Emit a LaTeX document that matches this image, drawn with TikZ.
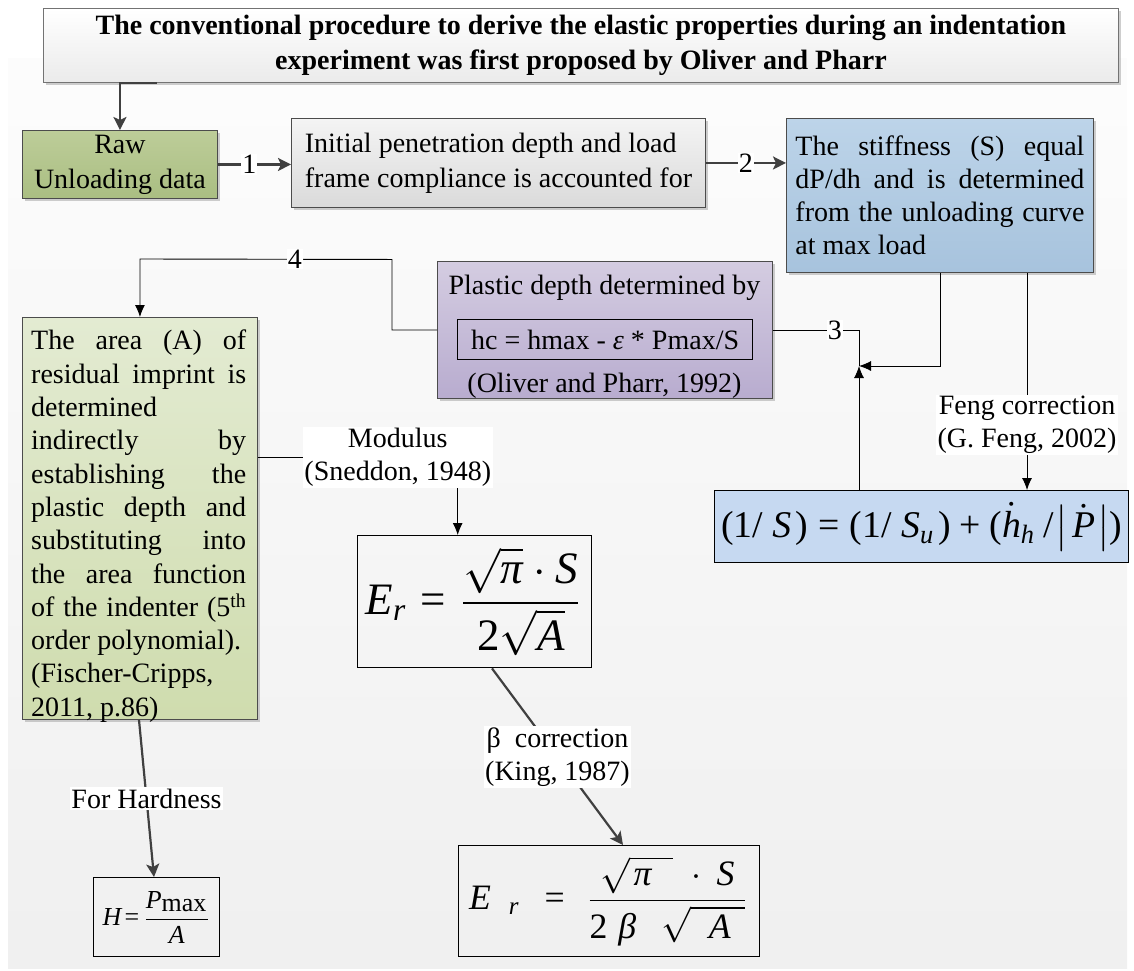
\documentclass[tikz,border=0pt]{standalone}
\usepackage{amsmath}
\usepackage{graphicx}
\usepackage{fontspec}
\setmainfont{Liberation Serif}
\usetikzlibrary{arrows.meta,shadows,calc}
\newcommand\ti[1]{\textit{#1}}
\newcommand\tn[1]{\textnormal{#1}}
\newcommand\ns{\spaceskip=0pt\xspaceskip=0pt\relax}
\newcommand\jline[2]{\makebox[#1][s]{\ns #2}}
\newcommand\eqw[2]{\resizebox{#1}{!}{\fontsize{10}{12}\selectfont #2}}
\definecolor{rawtop}{HTML}{BDCD99}
\definecolor{rawbot}{HTML}{AABE82}
\definecolor{inittop}{HTML}{F4F4F4}
\definecolor{initbot}{HTML}{DADADA}
\definecolor{stifftop}{HTML}{BDD4E9}
\definecolor{stiffbot}{HTML}{A7C3DD}
\definecolor{plastop}{HTML}{D4CCE1}
\definecolor{plasbot}{HTML}{B8ACCF}
\definecolor{greentop}{HTML}{E3EBD2}
\definecolor{greenbot}{HTML}{CFDCAE}
\definecolor{formfill}{HTML}{C6D9F1}
\begin{document}
\begin{tikzpicture}[x=1pt,y=-1pt,
  base/.style={font=\fontsize{28}{34}\selectfont, inner sep=0pt, anchor=north west},
  shd/.style={drop shadow={shadow xshift=3pt,shadow yshift=-3pt,fill=black!35,opacity=0.55}},
  box/.style={base, draw=black!70, line width=0.9pt, shd},
  eqbox/.style={base, draw=black, line width=1.4pt},
  arrA/.style={draw=black!75, line width=2.2pt, -{Stealth[length=13pt,width=13pt,inset=3pt]}},
  arrB/.style={draw=black, line width=0.9pt, -{Latex[length=12pt,width=10pt]}},
  lnB/.style={draw=black, line width=0.9pt},
  lab/.style={fill=white, inner sep=1.5pt, font=\fontsize{28}{33}\selectfont, align=center, text=black},
]
\useasboundingbox (0,0) rectangle (1134,970);
% background
\fill[top color=black!1, bottom color=black!6] (8,58) rectangle (1127,968);

% title
\node[box, draw=black!55, top color=white, bottom color=black!8,
      minimum width=1075pt, minimum height=74pt, align=center,
      font=\bfseries\fontsize{28}{35}\selectfont] (title) at (43,8)
  {\ns The conventional procedure to derive the elastic properties during an indentation\\
   experiment was first proposed by Oliver and Pharr};

% first row
\node[box, top color=rawtop, bottom color=rawbot, minimum width=195pt, minimum height=68pt,
      align=center, font=\fontsize{28}{35}\selectfont] (raw) at (22,130) {\ns Raw\\Unloading data};
\node[box, top color=inittop, bottom color=initbot, minimum width=414pt, minimum height=89pt,
      align=left, font=\fontsize{28}{35}\selectfont] (init) at (291,118)
  {\ns Initial penetration depth and load\\frame compliance is accounted for};
\node[box, top color=stifftop, bottom color=stiffbot, minimum height=154pt,
      text width=289pt, inner xsep=9pt, align=left, font=\fontsize{28}{33}\selectfont] (stiff) at (786,118)
  {\jline{289pt}{The stiffness (S) equal}\\
   \jline{289pt}{dP/dh and is determined}\\
   \jline{289pt}{from the unloading curve}\\
   \ns at max load};

% plastic depth box
\node[box, top color=plastop, bottom color=plasbot, minimum width=335pt, minimum height=137pt] (plastic) at (437,261) {};
\node[base, anchor=center] (pl1) at (604.5,288) {\ns Plastic depth determined by};
\node[base, draw=black, line width=1.3pt, minimum width=295pt, minimum height=40pt] (hc) at (457,319)
  {\ns hc = hmax - \textit{ε} * Pmax/S};
\node[base, anchor=center] (pl3) at (604.5,386) {\ns (Oliver and Pharr, 1992)};

% green box
\node[box, top color=greentop, bottom color=greenbot, minimum width=235pt, minimum height=402pt] (green) at (22,317) {};
\node[base, text width=215pt, align=left, font=\fontsize{28}{33.3}\selectfont] (greentxt) at (31,330)
  {\jline{215pt}{The area (A) of}\\
   \jline{215pt}{residual imprint is}\\
   \ns determined\\
   \jline{215pt}{indirectly by}\\
   \jline{215pt}{establishing the}\\
   \jline{215pt}{plastic depth and}\\
   \jline{215pt}{substituting into}\\
   \jline{215pt}{the area function}\\
   \jline{215pt}{of the indenter (5\textsuperscript{th}}\\
   \ns order polynomial).\\
   (Fischer-Cripps,\\
   2011, p.86)};

% formula boxes
\node[eqbox, fill=formfill, minimum width=414pt, minimum height=72pt] (form) at (714,490)
  {\eqw{401pt}{$\tn{(1}\tn{/}\hspace{2.5pt}\ti{S}\hspace{1pt}\tn{)}\mathrel{\tn{=}}\tn{(1}\tn{/}\hspace{2.5pt}\ti{S}_{\ti{u}}\hspace{1pt}\tn{)}\mathbin{\tn{+}}\tn{(}\dot{\ti{h}}_{\ti{h}}\hspace{2pt}\tn{/}\hspace{0.5pt}\bigl|\hspace{1pt}\dot{\ti{P}}\hspace{0.5pt}\bigr|\tn{)}$}};
\node[eqbox, minimum width=234pt, minimum height=132pt] (er1) at (357,535)
  {\eqw{218pt}{$\displaystyle \ti{E}_{\ti{r}}\mathrel{\tn{=}}\frac{\sqrt{\ti{π}}\cdot\ti{S}}{\tn{2}\sqrt{\ti{A}}}$}};
\node[eqbox, minimum width=301pt, minimum height=111pt] (er2) at (458,845)
  {\eqw{280pt}{$\displaystyle \ti{E}\hspace{5pt}{}_{\ti{r}}\hspace{4pt}\mathrel{\tn{=}}\hspace{3pt}\frac{\sqrt{\hspace{1pt}\ti{π}\hspace{6pt}}\hspace{3pt}\cdot\hspace{2pt}\ti{S}}{\tn{2}\hspace{3pt}\ti{β}\hspace{7pt}\sqrt{\hspace{5pt}\ti{A}\hspace{4pt}}}$}};
\node[eqbox, minimum width=126pt, minimum height=79pt] (hbox) at (93,877)
  {\eqw{108pt}{$\displaystyle \ti{H}\hspace{-1.5pt}\mathrel{\tn{=}}\hspace{-1.5pt}\frac{\ti{P}_{\textstyle\tn{max}}}{\ti{A}}$}};

% junction
\coordinate (J) at (859,366);

% connectors
\draw[arrA] ([xshift=114pt]title.south west) -| (raw.north);
\draw[arrA] (raw.east) -- node[lab, pos=0.43, inner sep=1pt] {1} (raw.east -| init.west);
\draw[arrA] (init.east) -- node[lab, pos=0.5, inner sep=1pt] {2} (init.east -| stiff.west);
\draw[arrB] ([xshift=154pt]stiff.south west) |- (J);
\draw[arrB] ([xshift=145pt]form.north west) -- (J);
\draw[lnB] (J) |- node[lab, pos=0.64, inner sep=1pt] {3} (plastic.east);
\draw[arrB] (plastic.west) -- ++(-45,0) -- ++(0,-70.5)
   -- node[lab, pos=0.385, inner sep=1pt] {4} ($(green.north)+(0,-58)$) -- (green.north);
\draw[arrB] ([xshift=241pt]stiff.south west) -- node[lab, pos=0.70] {\ns Feng correction\\(G. Feng, 2002)} ([xshift=313pt]form.north west);
\draw[arrB] ([yshift=61pt]green.east) -| node[lab, pos=0.35] {\ns Modulus\\(Sneddon, 1948)} ([xshift=-17pt]er1.north);
\draw[arrA] ([xshift=135pt]er1.south west) -- node[lab, midway] {\ns β\ \ correction\\(King, 1987)} ([xshift=165pt]er2.north west);
\draw[arrA] ([xshift=117pt]green.south west) -- node[lab, midway] {\ns For Hardness} ([xshift=61pt]hbox.north west);
\end{tikzpicture}
\end{document}
